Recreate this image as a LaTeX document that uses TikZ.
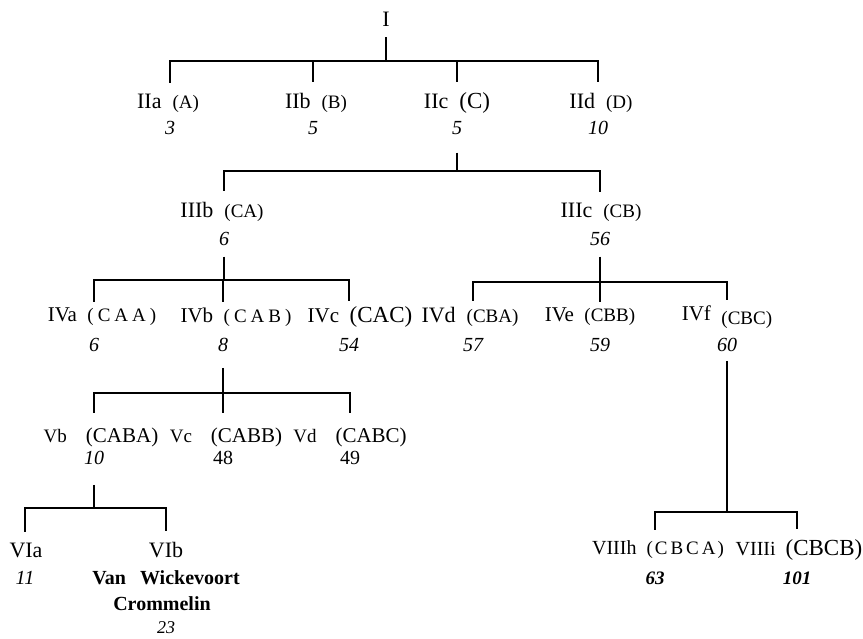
\documentclass[tikz,border=0pt]{standalone}
\usepackage{fontspec}
\setmainfont{Liberation Serif}
\newcommand\tsm[1]{{\fontsize{9.5}{11}\selectfont #1}}
\newcommand\tmd[1]{{\fontsize{10.5}{12}\selectfont #1}}
\newcommand\tlg[1]{{\fontsize{11.5}{13}\selectfont #1}}
\newcommand\lsp{\kern2pt}
\tikzset{
	every node/.style={inner sep=0pt,outer sep=5.5pt},
	every path/.style={line width=0.9pt},
	lab/.style={font=\fontsize{11}{13}\selectfont},
	labiv/.style={font=\fontsize{10.5}{12}\selectfont,outer sep=3pt},
	labv/.style={font=\fontsize{9.5}{11}\selectfont,outer sep=7pt},
	num/.style={font=\fontsize{10}{12}\selectfont\itshape},
	numup/.style={font=\fontsize{10}{12}\selectfont},
	numbf/.style={font=\fontsize{9.5}{11}\selectfont\bfseries\itshape},
	wname/.style={font=\fontsize{10}{12}\selectfont\bfseries},
}

\begin{document}
\begin{tikzpicture}[x=0.5pt,y=-0.5pt]
	\useasboundingbox (0,0) rectangle (863,638);

	% level I.....................
	\node [lab] (I) at (386,19) {I};
	\coordinate (bI) at (386,61);

	% level II.....................
	\node [lab] (IIa) at (168,103) {IIa\enspace\tsm{(A)}};
	\node [lab] (IIb) at (316,103) {IIb\enspace\tsm{(B)}};
	\node [lab] (IIc) at (457,103) {IIc\enspace\tlg{(C)}};
	\node [lab] (IId) at (601,103) {IId\enspace\tsm{(D)}};
	\node [num] (nIIa) at (170,128) {3};
	\node [num] (nIIb) at (313,128) {5};
	\node [num,outer sep=9pt] (nIIc) at (457,128) {5};
	\node [num] (nIId) at (598,128) {10};
	\coordinate (bIIc) at (457,171);

	% level III.....................
	\node [lab] (IIIb) at (222,212) {IIIb\enspace\tsm{(CA)}};
	\node [lab] (IIIc) at (601,212) {IIIc\enspace\tsm{(CB)}};
	\node [num] (nIIIb) at (224,239) {6};
	\node [num] (nIIIc) at (600,239) {56};
	\coordinate (bIIIb) at (224,280);
	\coordinate (bIIIc) at (600,282);

	% level IV.....................
	\node [labiv] (IVa) at (102,317) {IVa\enspace\tsm{(\lsp C\lsp A\lsp A\lsp)}};
	\node [labiv] (IVb) at (236,317) {IVb\enspace\tsm{(\lsp C\lsp A\lsp B\lsp)}};
	\node [labiv] (IVc) at (360,317) {IVc\enspace\tlg{(CAC)}};
	\node [labiv] (IVd) at (470,317) {\fontsize{11}{13}\selectfont IVd\enspace\tsm{(CBA)}};
	\node [labiv] (IVe) at (590,317) {IVe\enspace\tsm{(CBB)}};
	\node [labiv] (IVf) at (727,317) {IVf\enspace\raisebox{-2pt}{\tsm{(CBC)}}};
	\node [num] (nIVa) at (94,345) {6};
	\node [num,outer sep=8pt] (nIVb) at (223,345) {8};
	\node [num] (nIVc) at (349,345) {54};
	\node [num] (nIVd) at (473,345) {57};
	\node [num] (nIVe) at (600,345) {59};
	\node [num,outer sep=4.5pt] (nIVf) at (727,345) {60};
	\coordinate (bIVb) at (223,393);
	\coordinate (bIVf) at (727,512);

	% level V.....................
	\node [labv] (Vb) at (101,437) {Vb\quad\tmd{(CABA)}};
	\node [labv] (Vc) at (226,437) {Vc\quad\tmd{(CABB)}};
	\node [labv] (Vd) at (350,437) {Vd\quad\tmd{(CABC)}};
	\node [num,outer sep=10pt] (nVb) at (94,458) {10};
	\node [numup] (nVc) at (223,458) {48};
	\node [numup] (nVd) at (350,458) {49};
	\coordinate (bVb) at (94,508);

	% level VI.....................
	\node [lab] (VIa) at (26,550) {VIa};
	\node [lab] (VIb) at (166,550) {VIb};
	\node [num] (nVIa) at (25,578) {11};
	\node [wname] (vw) at (166,578) {Van\hspace{0.7em}Wickevoort};
	\node [wname] (cr) at (162,604) {Crommelin};
	\node [num,font=\fontsize{9}{11}\selectfont\itshape] (nVIb) at (166,628) {23};

	% level VIII.....................
	\node [lab,font=\fontsize{10}{12}\selectfont] (VIIIh) at (658,550) {VIIIh\enspace\tsm{(\kern1pt C\kern1.5pt B\kern1.5pt C\kern1.5pt A\kern1pt)}};
	\node [lab,font=\fontsize{10}{12}\selectfont] (VIIIi) at (799,550) {VIIIi\enspace\tlg{(CBCB)}};
	\node [numbf] (nVIIIh) at (655,578) {63};
	\node [numbf] (nVIIIi) at (797,578) {101};

	% connectors.....................
	\draw (I) -- (bI);
	\foreach \c in {IIa,IIb,IIc,IId}
		\draw (bI) -| (n\c |- \c.north);
	\draw (nIIc) -- (bIIc);
	\foreach \c in {IIIb,IIIc}
		\draw (bIIc) -| (n\c |- \c.north);
	\draw (nIIIb) -- (bIIIb);
	\foreach \c in {IVa,IVb,IVc}
		\draw (bIIIb) -| (n\c |- \c.north);
	\draw (nIIIc) -- (bIIIc);
	\foreach \c in {IVd,IVe,IVf}
		\draw (bIIIc) -| (n\c |- \c.north);
	\draw (nIVb) -- (bIVb);
	\foreach \c in {Vb,Vc,Vd}
		\draw (bIVb) -| (n\c |- \c.north);
	\draw (nVb) -- (bVb);
	\foreach \c in {VIa,VIb}
		\draw (bVb) -| (n\c |- \c.north);
	\draw (nIVf) -- (bIVf);
	\foreach \c in {VIIIh,VIIIi}
		\draw (bIVf) -| (n\c |- \c.north);
\end{tikzpicture}
\end{document}
